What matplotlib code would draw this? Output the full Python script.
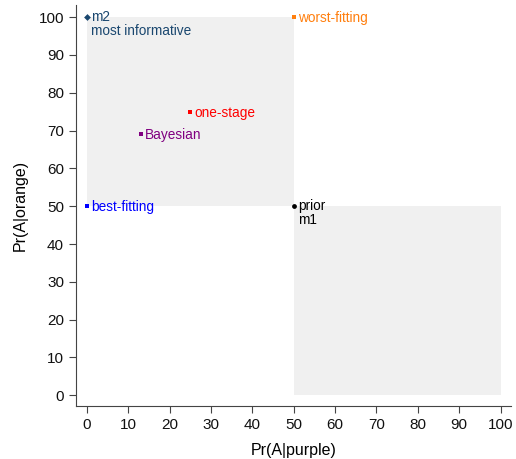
import matplotlib.pyplot as plt
from matplotlib.patches import Rectangle

plt.rcParams['font.family'] = ['Liberation Sans', 'DejaVu Sans']

# points: Pr(A|purple), Pr(A|orange)
names = ['m2', 'worst-fitting', 'one-stage', 'Bayesian', 'best-fitting', 'prior']
labels = ['m2\nmost informative', 'worst-fitting', 'one-stage', 'Bayesian', 'best-fitting', 'prior\nm1']
x_vals = [0, 50, 25, 13, 0, 50]
y_vals = [100, 100, 75, 69, 50, 50]
colors = ['#1a476f', '#ff7f0e', '#ff0000', '#800080', '#0000ff', '#000000']
markers = ['D', 's', 's', 's', 's', 'o']

fig = plt.figure(figsize=(5.16, 4.59), dpi=100)
ax = fig.add_axes([0.147, 0.115, 0.843, 0.874])

# shaded regions
ax.add_patch(Rectangle((0, 50), 50, 50, color='#f0f0f0', zorder=0, lw=0))
ax.add_patch(Rectangle((50, 0), 50, 50, color='#f0f0f0', zorder=0, lw=0))

for x, y, lab, c, m in zip(x_vals, y_vals, labels, colors, markers):
    ax.scatter(x, y, color=c, marker=m, s=12, zorder=3, linewidths=0)
    two = '\n' in lab
    ax.text(x + 1, y + (1.9 if two else -0.3), lab, color=c, fontsize=9.8,
            va='top' if two else 'center', ha='left', linespacing=1.0)

ax.set_xlim(-2.7, 102.5)
ax.set_ylim(-2.9, 103.2)
ax.set_xticks(range(0, 101, 10))
ax.set_yticks(range(0, 101, 10))
ax.tick_params(labelsize=11, length=5, width=0.8, color='#444444', labelcolor='#111111')
for s in ['left', 'bottom']:
    ax.spines[s].set_color('#444444')
ax.spines['top'].set_visible(False)
ax.spines['right'].set_visible(False)
ax.set_xlabel('Pr(A|purple)', fontsize=11.5, labelpad=8)
ax.set_ylabel('Pr(A|orange)', fontsize=11.5, labelpad=8)

fig.savefig('out.png', dpi=100)
